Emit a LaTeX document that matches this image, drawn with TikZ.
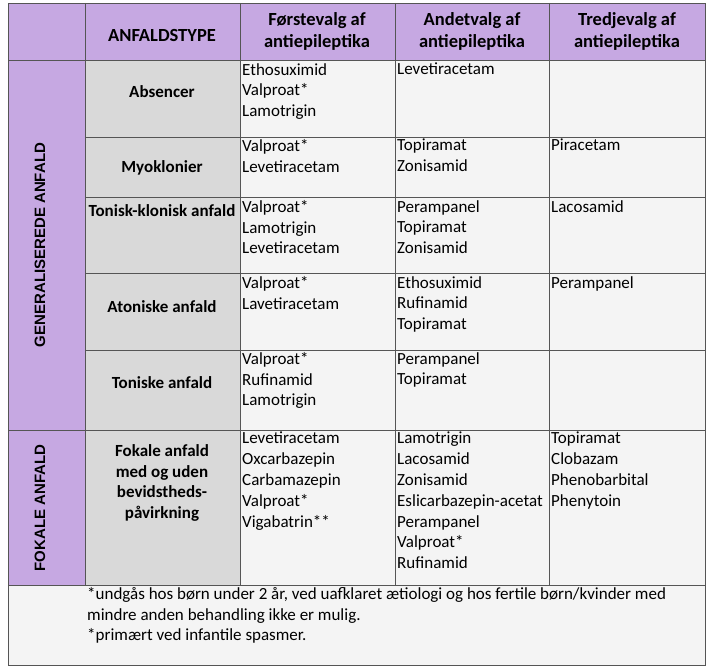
\documentclass[tikz,border=0pt]{standalone}
\usepackage{fontspec}
\setmainfont{Carlito}
\newfontfamily\vlab{Liberation Sans}
\definecolor{purp}{HTML}{C6A8E2}
\definecolor{cellg}{HTML}{F4F4F4}
\definecolor{typeg}{HTML}{D9D9D9}
\definecolor{linec}{HTML}{555555}
\begin{document}
\begin{tikzpicture}[x=1pt,y=-1pt,
  cell/.style={anchor=north west,inner sep=0pt,align=left,font=\fontsize{17}{20.8}\selectfont},
  hdr/.style={align=center,font=\fontsize{18.5}{22}\selectfont\bfseries},
  typ/.style={align=center,font=\fontsize{17}{20.8}\selectfont\bfseries},
  vl/.style={rotate=90,font=\vlab\fontsize{15}{18}\selectfont\bfseries},
  grid/.style={draw=linec,line width=0.8pt}]
\useasboundingbox (0,0) rectangle (710,668);
% fills
\fill[white] (0,0) rectangle (710,668);
\fill[purp] (8,3) rectangle (705,60);
\fill[purp] (8,60) rectangle (85,585);
\fill[typeg] (85,60) rectangle (240,585);
\fill[cellg] (240,60) rectangle (705,585);
\fill[cellg] (8,585) rectangle (705,665);
% grid
\draw[grid] (8,3) rectangle (705,665);
\foreach \x in {85,240,395,549} \draw[grid] (\x,3) -- (\x,585);
\draw[grid] (8,60) -- (705,60);
\foreach \y in {137,197,273,350} \draw[grid] (85,\y) -- (705,\y);
\draw[grid] (8,430) -- (705,430);
\draw[grid] (8,585) -- (705,585);
% header
\node[hdr] (h1) at (162,36) {ANFALDSTYPE};
\node[hdr] (h2) at (317,31) {Førstevalg af\\antiepileptika};
\node[hdr] (h3) at (472,31) {Andetvalg af\\antiepileptika};
\node[hdr] (h4) at (627,31) {Tredjevalg af\\antiepileptika};
% vertical labels
\node[vl] (g) at (40,245) {GENERALISEREDE ANFALD};
\node[vl] (f) at (40,508) {FOKALE ANFALD};
% types
\node[typ] (t1) at (162,92) {Absencer};
\node[typ] (t2) at (162,168) {Myoklonier};
\node[typ] (t3) at (162,211) {Tonisk-klonisk anfald};
\node[typ] (t4) at (162,307) {Atoniske anfald};
\node[typ] (t5) at (162,383) {Toniske anfald};
\node[typ] (t6) at (162,483) {Fokale anfald\\med og uden\\bevidstheds-\\påvirkning};
% first choice
\node[cell] (a1) at (242,63) {Ethosuximid\\Valproat*\\Lamotrigin};
\node[cell] (a2) at (242,139) {Valproat*\\Levetiracetam};
\node[cell] (a3) at (242,200) {Valproat*\\Lamotrigin\\Levetiracetam};
\node[cell] (a4) at (242,276) {Valproat*\\Lavetiracetam};
\node[cell] (a5) at (242,352) {Valproat*\\Rufinamid\\Lamotrigin};
\node[cell] (a6) at (242,432) {Levetiracetam\\Oxcarbazepin\\Carbamazepin\\Valproat*\\Vigabatrin**};
% second choice
\node[cell] (b1) at (397,63) {Levetiracetam};
\node[cell] (b2) at (397,139) {Topiramat\\Zonisamid};
\node[cell] (b3) at (397,200) {Perampanel\\Topiramat\\Zonisamid};
\node[cell] (b4) at (397,276) {Ethosuximid\\Rufinamid\\Topiramat};
\node[cell] (b5) at (397,352) {Perampanel\\Topiramat};
\node[cell] (b6) at (397,432) {Lamotrigin\\Lacosamid\\Zonisamid\\Eslicarbazepin-acetat\\Perampanel\\Valproat*\\Rufinamid};
% third choice
\node[cell] (c2) at (551,139) {Piracetam};
\node[cell] (c3) at (551,200) {Lacosamid};
\node[cell] (c4) at (551,276) {Perampanel};
\node[cell] (c6) at (551,432) {Topiramat\\Clobazam\\Phenobarbital\\Phenytoin};
% footnote
\node[cell] (fn) at (87,587) {*undgås hos børn under 2 år, ved uafklaret ætiologi og hos fertile børn/kvinder med\\mindre anden behandling ikke er mulig.\\*primært ved infantile spasmer.};
\end{tikzpicture}
\end{document}
